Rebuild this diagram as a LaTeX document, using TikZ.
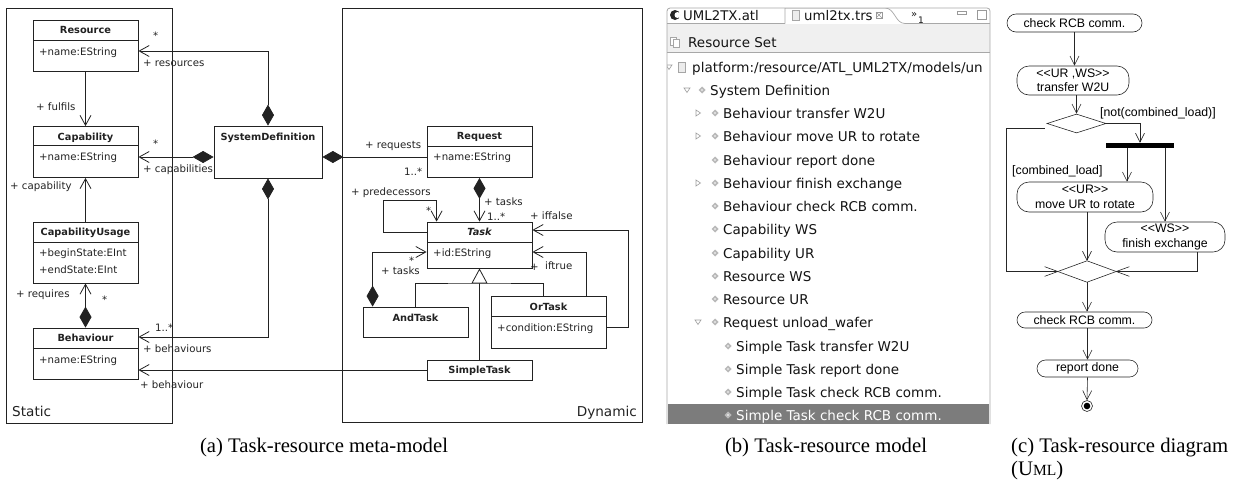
\documentclass[tikz,border=0pt]{standalone}
\usepackage{fontspec}
\setmainfont{Liberation Serif}
\newfontfamily\dvs{DejaVu Sans}
\newfontfamily\lsans{Liberation Sans}
\usetikzlibrary{arrows.meta,shapes.geometric,calc}
\definecolor{lc}{HTML}{222222}
\definecolor{fr}{HTML}{A8A8A8}
\definecolor{selbg}{HTML}{7C7C7C}
\newcommand\dlt{<\kern0pt<}
\newcommand\dgt{>\kern0pt>}
\newcommand\tvicon[2]{\fill[gray!55] (#1-3.5,#2) -- (#1,#2-3.5) -- (#1+3.5,#2) -- (#1,#2+3.5) -- cycle; \fill[white] (#1,#2) circle (0.9pt);}
\newcommand\tvexpd[2]{\draw[gray!75,line width=0.6pt] (#1-3,#2-2) -- (#1+3,#2-2) -- (#1,#2+2.5) -- cycle;}
\newcommand\tvexpr[2]{\draw[gray!75,line width=0.6pt] (#1-2,#2-3) -- (#1+2.5,#2) -- (#1-2,#2+3) -- cycle;}
\begin{document}
\begin{tikzpicture}[x=1pt,y=-1pt,
  cls/.style={draw=lc,line width=0.8pt,fill=white,inner sep=0pt,minimum width=105pt,minimum height=51pt},
  ttl/.style={font=\dvs\bfseries\fontsize{9.8}{11}\selectfont,inner sep=0pt,text=lc,anchor=base,yshift=-3.5pt},
  att/.style={font=\dvs\fontsize{10.2}{12}\selectfont,inner sep=0pt,anchor=base west,yshift=-3.7pt,text=lc},
  ln/.style={draw=lc,line width=0.8pt},
  assoc/.style={ln,-{Straight Barb[length=10pt,width=11pt]}},
  comp/.style={ln,{Diamond[length=21pt,width=12pt]}-{Straight Barb[length=10pt,width=11pt]}},
  compl/.style={ln,{Diamond[length=21pt,width=12pt]}-},
  gen/.style={ln,-{Triangle[length=15pt,width=16pt,fill=white]}},
  pkg/.style={draw=lc,line width=0.8pt,inner sep=0pt},
  pkgl/.style={font=\dvs\fontsize{13.6}{15}\selectfont,inner sep=0pt,text=lc,yshift=-5pt},
  tree/.style={font=\dvs\fontsize{13.5}{16}\selectfont,inner sep=0pt,anchor=base west,yshift=-5pt,text=black!92},
  act/.style={draw=black!85,line width=0.6pt,inner sep=0pt,align=center,font=\lsans\fontsize{12.3}{14.5}\selectfont},
  cl/.style={draw=black!85,line width=0.6pt},
  carr/.style={cl,-{Straight Barb[length=9pt,width=9pt]}},
  clab/.style={font=\lsans\fontsize{12.3}{14.5}\selectfont,inner sep=0pt,anchor=west},
  captxt/.style={font=\fontsize{20.7}{24}\selectfont,inner sep=0pt}
]
\useasboundingbox (0,0) rectangle (1234,483);

% ================= panel (a) =================
\node[pkg,minimum width=166pt,minimum height=415pt] (static) at (89,215.5) {};
\node[pkg,minimum width=300pt,minimum height=414pt] (dynamic) at (492,215) {};
\node[pkgl,anchor=base west] (staticL) at (12,411) {Static};
\node[pkgl,anchor=base east] (dynamicL) at (637,411) {Dynamic};

% Resource
\node[cls] (res) at (85.5,45.5) {};
\draw[ln] (33,40) -- (138,40);
\node[ttl] (resT) at (85.5,30) {Resource};
\node[att] (resA) at (39,52) {+name:EString};
% Capability
\node[cls] (cap) at (85.5,152) {};
\draw[ln] (33,145) -- (138,145);
\node[ttl] (capT) at (85.5,136.5) {Capability};
\node[att] (capA) at (39,157) {+name:EString};
% CapabilityUsage
\node[cls,minimum height=61pt] (cu) at (85.5,252.5) {};
\draw[ln] (33,242) -- (138,242);
\node[ttl] (cuT) at (85.5,232) {CapabilityUsage};
\node[att] (cuA) at (39,253) {+beginState:EInt};
\node[att] (cuB) at (39,270) {+endState:EInt};
% Behaviour
\node[cls] (beh) at (85.5,353.5) {};
\draw[ln] (33,348) -- (138,348);
\node[ttl] (behT) at (85.5,338) {Behaviour};
\node[att] (behA) at (39,360) {+name:EString};
% SystemDefinition
\node[cls,minimum width=108pt,minimum height=52pt] (sd) at (268,152) {};
\node[ttl] (sdT) at (268,137) {SystemDefinition};
% Request
\node[cls] (req) at (479.5,152) {};
\draw[ln] (427,146) -- (532,146);
\node[ttl] (reqT) at (479.5,136) {Request};
\node[att] (reqA) at (433,157) {+name:EString};
% Task
\node[cls,minimum height=46pt] (task) at (479.5,245) {};
\draw[ln] (427,242) -- (532,242);
\node[ttl,font=\dvs\bfseries\itshape\fontsize{9.8}{11}\selectfont] (taskT) at (479.5,232) {Task};
\node[att] (taskA) at (433,253) {+id:EString};
% AndTask
\node[cls,minimum height=30pt] (andt) at (415.5,322) {};
\node[ttl] (andtT) at (415.5,318) {AndTask};
% OrTask
\node[cls,minimum width=115pt,minimum height=52pt] (ort) at (548.5,322) {};
\draw[ln] (491,316) -- (606,316);
\node[ttl] (ortT) at (548.5,306.5) {OrTask};
\node[att] (ortA) at (497,328) {+condition:EString};
% SimpleTask
\node[cls,minimum height=20pt] (st) at (479.5,370) {};
\node[ttl] (stT) at (479.5,370) {SimpleTask};

% connectors
\draw[comp] (sd.north) |- ([yshift=-5.5pt]res.east);
\draw[comp] ([yshift=-5pt]sd.west) -- ([yshift=-5pt]cap.east);
\draw[compl] ([yshift=-5pt]sd.east) -- ([yshift=-5pt]req.west);
\draw[comp] (sd.south) |- ([yshift=16.5pt]beh.east);
\draw[assoc] (res.south) -- (cap.north);
\draw[assoc] (cu.north) -- (cap.south);
\draw[comp] (beh.north) -- (cu.south);
\draw[assoc] (st.west) -- (st.west -| beh.east);
\draw[comp] (req.south) -- (task.north);
\draw[assoc] ([yshift=13pt]task.west) -- ++(-43,0) -- ++(0,-32) -| ([xshift=10pt]task.north west);
\draw[comp] ([xshift=10pt]andt.north west) |- ([yshift=-7pt]task.west);
\coordinate (gj) at (479.5,283);
\draw[ln] (andt.north) |- (gj) -| ([xshift=-5.5pt]ort.north);
\draw[gen] (st.north) -- (task.south);
\draw[assoc] ([xshift=37.5pt]ort.north) |- ([yshift=-7pt]task.east);
\draw[assoc] ([yshift=-5pt]ort.east) -- ++(22,0) |- ([yshift=15pt]task.east);

% labels
\node[att] (l1) at (153,36) {*};
\node[att] (l2) at (143,63) {+ resources};
\node[att] (l3) at (36,107) {+ fulfils};
\node[att] (l4) at (153,144) {*};
\node[att] (l5) at (143,169) {+ capabilities};
\node[att] (l6) at (10,186) {+ capability};
\node[att] (l7) at (16,294) {+ requires};
\node[att] (l8) at (102,300) {*};
\node[att] (l9) at (155,328) {1..*};
\node[att] (l10) at (143,349) {+ behaviours};
\node[att] (l11) at (140,385) {+ behaviour};
\node[att] (l12) at (365,145) {+ requests};
\node[att] (l13) at (404,172) {1..*};
\node[att] (l14) at (351,192) {+ predecessors};
\node[att] (l15) at (426,211) {*};
\node[att] (l16) at (484,202) {+ tasks};
\node[att] (l17) at (487,217) {1..*};
\node[att] (l18) at (530,216) {+ iffalse};
\node[att] (l19) at (409,261) {*};
\node[att] (l20) at (381,271) {+ tasks};
\node[att] (l21) at (530,267) {+};
\node[att] (l22) at (545,266) {iftrue};

% ================= panel (b) =================
\begin{scope}
\clip (667,8) rectangle (990,424);
\fill[white] (667,8) rectangle (990,424);
\fill[gray!12] (667,24) rectangle (990,52);
\draw[fr,line width=0.7pt] (667,52.5) -- (990,52.5);
\draw[fr,line width=0.7pt] (667,23.5) -- (785,23.5);
\draw[fr,line width=0.7pt] (905,23.5) -- (990,23.5);
\draw[fr,line width=0.7pt] (785,23.5) -- (785,8) -- (885,8) .. controls (895,8) and (895,23.5) .. (905,23.5);
% tab 1
\fill[black!85] (675,15) circle (5pt);
\fill[white] (677.5,15) circle (3pt);
\node[tree,font=\dvs\fontsize{13.3}{16}\selectfont] (tab1) at (683,15) {UML2TX.atl};
% tab 2
\draw[gray!70,fill=gray!15,line width=0.5pt] (792,10) rectangle (799,20);
\node[tree,font=\dvs\fontsize{13.3}{16}\selectfont] (tab2) at (804,15) {uml2tx.trs};
\draw[gray!80,line width=0.5pt] (876,12) rectangle (882,18);
\draw[gray!80,line width=0.5pt] (876,12) -- (882,18) (876,18) -- (882,12);
\node[tree,font=\dvs\fontsize{10}{12}\selectfont] (more) at (911,12) {»};
\node[tree,font=\dvs\fontsize{9}{11}\selectfont] (moren) at (918,18) {1};
\draw[gray!80,line width=0.6pt] (957,11) rectangle (966,14);
\draw[gray!80,line width=0.6pt] (977,10) rectangle (986,19);
% resource set
\draw[gray!70,fill=white,line width=0.5pt] (670,37) rectangle (676,45);
\draw[gray!70,fill=white,line width=0.5pt] (673,39) rectangle (679,47);
\node[tree] (rs) at (688,42) {Resource Set};
% tree rows
\tvexpd{669}{67}
\draw[gray!70,fill=gray!15,line width=0.5pt] (678,62) rectangle (685,72);
\node[tree] (r1) at (692,67) {platform:/resource/ATL\_UML2TX/models/un};
\tvexpd{687}{90}\tvicon{702}{90}
\node[tree] (r2) at (710,90) {System Definition};
\tvexpr{698}{113}\tvicon{715}{113}
\node[tree] (r3) at (723,113) {Behaviour transfer W2U};
\tvexpr{698}{136}\tvicon{715}{136}
\node[tree] (r4) at (723,136) {Behaviour move UR to rotate};
\tvicon{715}{160}
\node[tree] (r5) at (723,160) {Behaviour report done};
\tvexpr{698}{183}\tvicon{715}{183}
\node[tree] (r6) at (723,183) {Behaviour finish exchange};
\tvicon{715}{206}
\node[tree] (r7) at (723,206) {Behaviour check RCB comm.};
\tvicon{715}{229}
\node[tree] (r8) at (723,229) {Capability WS};
\tvicon{715}{253}
\node[tree] (r9) at (723,253) {Capability UR};
\tvicon{715}{276}
\node[tree] (r10) at (723,276) {Resource WS};
\tvicon{715}{299}
\node[tree] (r11) at (723,299) {Resource UR};
\tvexpd{698}{322}\tvicon{715}{322}
\node[tree] (r12) at (723,322) {Request unload\_wafer};
\tvicon{728}{346}
\node[tree] (r13) at (736,346) {Simple Task transfer W2U};
\tvicon{728}{369}
\node[tree] (r14) at (736,369) {Simple Task report done};
\tvicon{728}{392}
\node[tree] (r15) at (736,392) {Simple Task check RCB comm.};
\fill[selbg] (668,404) rectangle (989,424);
\tvicon{728}{415}
\node[tree,text=white] (r16) at (736,415) {Simple Task check RCB comm.};
\end{scope}
\draw[fr,line width=0.8pt,rounded corners=3pt] (667,424) -- (667,8) -- (990,8) -- (990,424);

% ================= panel (c) =================
\node[act,minimum width=135pt,minimum height=18pt,rounded corners=9pt] (c1) at (1074.5,23) {check RCB comm.};
\node[act,minimum width=112pt,minimum height=29pt,rounded corners=12pt] (c2) at (1073,80.5) {\dlt UR ,WS\dgt\\transfer W2U};
\node[draw=black!85,line width=0.6pt,diamond,minimum width=59pt,minimum height=19pt,inner sep=0pt] (dec) at (1076.5,123.5) {};
\node[fill=black,minimum width=68pt,minimum height=5pt,inner sep=0pt] (fork) at (1140,145.5) {};
\node[act,minimum width=136pt,minimum height=30pt,rounded corners=12pt] (c3) at (1085,197) {\dlt UR\dgt\\move UR to rotate};
\node[act,minimum width=120pt,minimum height=30pt,rounded corners=12pt] (c4) at (1165,237) {\dlt WS\dgt\\finish exchange};
\node[diamond,minimum width=58pt,minimum height=21pt,inner sep=0pt] (mrg) at (1087,271.5) {};
\node[act,minimum width=135pt,minimum height=16pt,rounded corners=8pt] (c5) at (1084.5,320) {check RCB comm.};
\node[act,minimum width=101pt,minimum height=17pt,rounded corners=8.5pt] (c6) at (1087.5,368.5) {report done};
\node[draw=black!85,line width=0.6pt,circle,minimum size=11pt,inner sep=0pt] (fin) at (1087,406) {};
\fill[black] (fin.center) circle (3.3pt);

\draw[cl] (mrg.north) -- ($(mrg.north)!1.45!(mrg.west)$);
\draw[cl] (mrg.south) -- ($(mrg.south)!1.45!(mrg.west)$);
\draw[cl] (mrg.north) -- ($(mrg.north)!1.45!(mrg.east)$);
\draw[cl] (mrg.south) -- ($(mrg.south)!1.45!(mrg.east)$);

\draw[carr] (c1.south) -- (c1.south |- c2.north);
\draw[carr] (dec.north |- c2.south) -- (dec.north);
\draw[carr] (dec.east) -| (fork.north);
\draw[carr] ([xshift=-13pt]fork.south) -- ([xshift=-13pt]fork.south |- c3.north);
\draw[carr] (fork.south -| c4.north) -- (c4.north);
\draw[cl] ([xshift=-2pt,yshift=-4.5pt]dec.west) -- ++(-38,0) |- (mrg.west);
\draw[carr] (c3.south -| mrg.north) -- (mrg.north);
\draw[cl] ([xshift=32pt]c4.south) |- (mrg.east);
\draw[carr] (mrg.south) -- (mrg.south |- c5.north);
\draw[carr] (c6.north |- c5.south) -- (c6.north);
\draw[carr] (c6.south) -- (fin.north);

\node[clab] (g1) at (1100,113) {[not(combined\_load)]};
\node[clab] (g2) at (1012,171) {[combined\_load]};

% ================= captions =================
\node[captxt,anchor=base] (capa) at (324,452) {(a) Task-resource meta-model};
\node[captxt,anchor=base] (capb) at (826,452) {(b) Task-resource model};
\node[captxt,anchor=base west] (capc) at (1011,452) {(c) Task-resource diagram};
\node[captxt,anchor=base west] (capc2) at (1011,475) {(U{\fontsize{15.5}{18}\selectfont ML})};
\end{tikzpicture}
\end{document}
